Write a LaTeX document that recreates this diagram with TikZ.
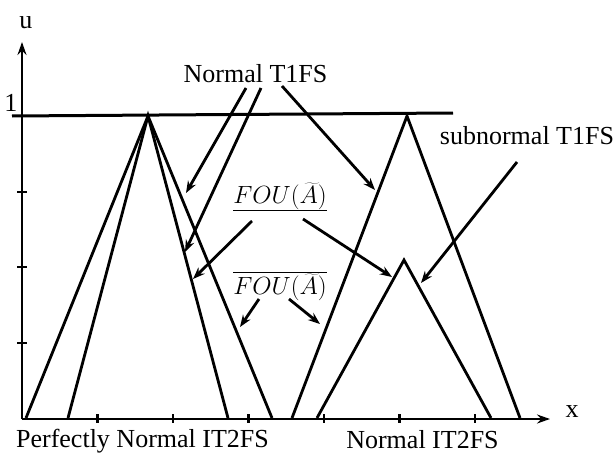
\documentclass[tikz,border=0pt]{standalone}
\usepackage{fontspec}
\setmainfont{Liberation Serif}
\usetikzlibrary{arrows.meta}
\begin{document}
\begin{tikzpicture}[x=1pt,y=-1pt,line width=2.8pt,
  arr/.style={-{Stealth[length=12pt,width=9pt,inset=4pt]}},
  axarr/.style={-{Stealth[length=13pt,width=9pt,inset=4.5pt]}},
  lab/.style={font=\fontsize{26}{30}\selectfont,inner sep=0pt,anchor=base},
  mlab/.style={font=\fontsize{27}{31}\selectfont,inner sep=0pt,anchor=base},
  tick/.style={line width=2.4pt}]
\useasboundingbox (0,0) rectangle (616,455);
% axes
\coordinate (O) at (22,419);
\coordinate (ytop) at (22,42);
\coordinate (xend) at (550,419);
\draw[axarr] (O) -- (ytop);
\draw[axarr] (O) -- (xend);
\foreach \y in {192,267,343} \draw[tick] (17,\y) -- (27,\y);
\foreach \x in {97.5,173,248.5,324,399.5,475} \draw[tick] (\x,414) -- (\x,423);
% level 1 line
\coordinate (h1) at (12,116);
\coordinate (h2) at (453,113);
\draw[line width=3pt] (h1) -- (h2);
% left IT2FS
\coordinate (L1) at (26,418);
\coordinate (L2) at (68,418);
\coordinate (LA) at (148,116);
\coordinate (L3) at (228,418);
\coordinate (L4) at (272,418);
\draw (L1) -- (LA) -- (L4);
\draw (L2) -- (LA) -- (L3);
% right IT2FS
\coordinate (R1) at (292,418);
\coordinate (RA) at (407,116);
\coordinate (R4) at (520,418);
\coordinate (r1) at (317,418);
\coordinate (rA) at (404,260);
\coordinate (r4) at (491,418);
\draw (R1) -- (RA) -- (R4);
\draw (r1) -- (rA) -- (r4);
% labels
\node[lab] (u) at (26,28) {u};
\node[lab] (one) at (11,111) {1};
\node[lab] (x) at (572,417) {x};
\node[lab] (nt1) at (255.5,82) {Normal T1FS};
\node[lab] (snt1) at (527,144) {subnormal T1FS};
\node[lab] (pn) at (142.5,447) {Perfectly Normal IT2FS};
\node[lab] (nit2) at (422.5,448) {Normal IT2FS};
\node[mlab] (fouu) at (280,203) {$\underline{FOU(\widetilde{A})}$};
\node[mlab] (foul) at (280,294) {$\overline{FOU(\widetilde{A})}$};
% arrows
\coordinate (a1s) at (246,88);  \coordinate (a1e) at (186,193);
\coordinate (a2s) at (261,88);  \coordinate (a2e) at (185,252);
\coordinate (a3s) at (282,86);  \coordinate (a3e) at (375,190);
\coordinate (a4s) at (517,162); \coordinate (a4e) at (421,283);
\coordinate (a5s) at (252,221); \coordinate (a5e) at (193,279);
\coordinate (a6s) at (303,219); \coordinate (a6e) at (392,277);
\coordinate (a7s) at (259,299); \coordinate (a7e) at (240,327);
\coordinate (a8s) at (289,299); \coordinate (a8e) at (320,324);
\foreach \a in {a1,a2,a3,a4,a5,a6,a7,a8} \draw[arr] (\a s) -- (\a e);
\end{tikzpicture}
\end{document}
